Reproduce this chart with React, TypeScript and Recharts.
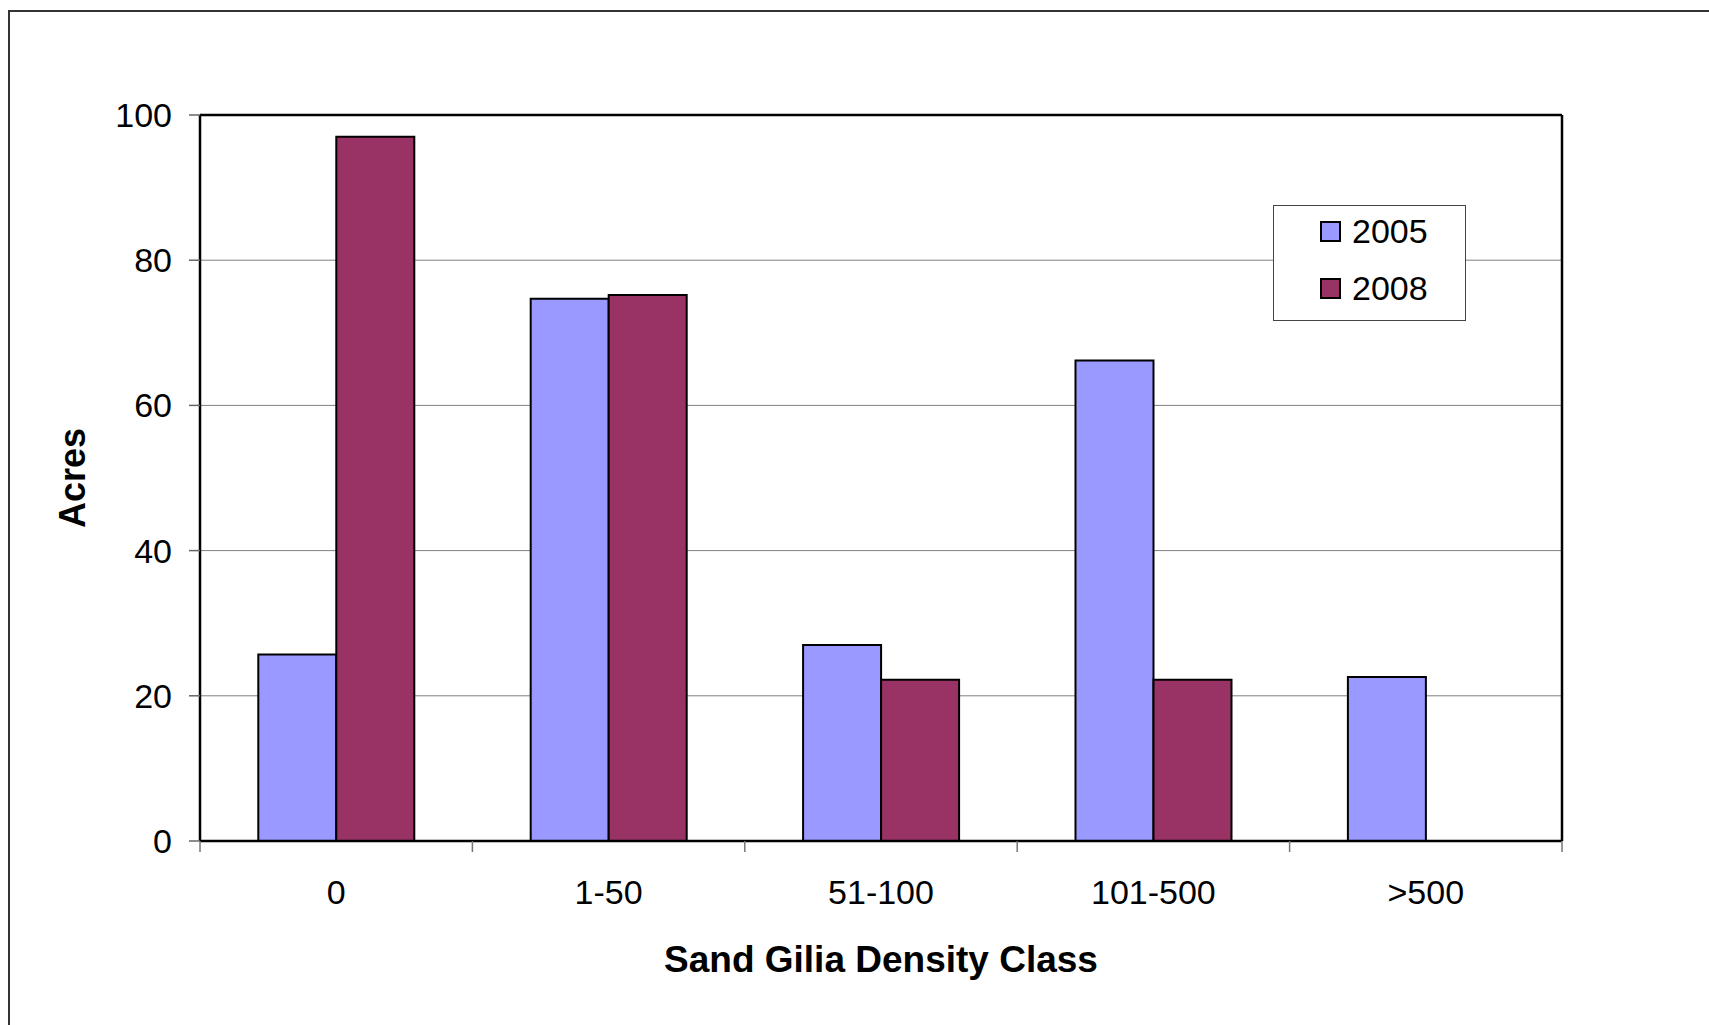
import { BarChart, Bar, XAxis, YAxis, CartesianGrid, Legend } from 'recharts';

const classes = ['0', '1-50', '51-100', '101-500', '>500'];
const acres2005 = [25.7, 74.7, 27.0, 66.2, 22.6];
const acres2008 = [97.0, 75.2, 22.2, 22.2, 0];
const yTicks = [0, 20, 40, 60, 80, 100];

const data = classes.map((cls, i) => ({ cls, y2005: acres2005[i], y2008: acres2008[i] }));

const W = 1709;
const H = 1025;
// the frame axes (top/right) need 1px of room to be drawn at all
const margin = { top: 114, right: 146, bottom: 34, left: 140 };
const Y_AXIS_W = 60;
const X_AXIS_H = 150;
const plotWidth = W - margin.left - margin.right - Y_AXIS_W - 1;
const band = plotWidth / classes.length;

const FONT = '"Liberation Sans", Arial, sans-serif';
const C2005 = '#9999FF';
const C2008 = '#993366';

// category labels sit at band centres, tick marks at band edges
function CategoryTick(props: any) {
  const { x, y, payload, index } = props;
  const half = band / 2;
  return (
    <g>
      {index === 0 && <line x1={x - half} x2={x - half} y1={y} y2={y + 11} stroke="#777" strokeWidth={1.5} />}
      <line x1={x + half} x2={x + half} y1={y} y2={y + 11} stroke="#777" strokeWidth={1.5} />
      <text x={x} y={y + 39} dy="0.71em" textAnchor="middle" fontSize={34} fill="#000" fontFamily={FONT}>
        {payload.value}
      </text>
    </g>
  );
}

function LegendBox() {
  const rows = [
    { label: '2005', color: C2005 },
    { label: '2008', color: C2008 },
  ];
  return (
    <div
      style={{
        position: 'relative',
        width: 193,
        height: 116,
        boxSizing: 'border-box',
        border: '1.5px solid #444',
        background: '#fff',
        fontFamily: FONT,
      }}
    >
      {rows.map((r, i) => (
        <div
          key={r.label}
          style={{
            position: 'absolute',
            left: 46,
            top: 5 + i * 57,
            height: 40,
            display: 'flex',
            alignItems: 'center',
          }}
        >
          <span
            style={{
              width: 21,
              height: 21,
              boxSizing: 'border-box',
              background: r.color,
              border: '2px solid #000',
              marginRight: 11,
            }}
          />
          <span style={{ fontSize: 34, color: '#000', lineHeight: 1 }}>{r.label}</span>
        </div>
      ))}
    </div>
  );
}

export default function App() {
  return (
    <div style={{ position: 'absolute', left: 0, top: 0, width: W, height: H, overflow: 'hidden', background: '#fff' }}>
      <div
        style={{
          position: 'absolute',
          left: 8,
          top: 10,
          width: W - 8,
          height: H - 10,
          boxSizing: 'border-box',
          borderLeft: '2px solid #333',
          borderTop: '2px solid #333',
        }}
      />
      <div style={{ position: 'absolute', left: 0, top: 0 }}>
        <BarChart width={W} height={H} data={data} margin={margin} barCategoryGap="21.4%" barGap={0}>
          <CartesianGrid vertical={false} stroke="#808080" strokeWidth={1} />
          <XAxis
            dataKey="cls"
            height={X_AXIS_H}
            axisLine={{ stroke: '#000', strokeWidth: 2.5 }}
            tickLine={false}
            tickSize={0}
            tickMargin={0}
            interval={0}
            tick={<CategoryTick />}
            label={{
              content: (p: any) => {
                const vb = p.viewBox;
                return (
                  <text
                    x={vb.x + vb.width / 2}
                    y={vb.y + 118}
                    textAnchor="middle"
                    dominantBaseline="central"
                    fontSize={37}
                    fontWeight="bold"
                    fill="#000"
                    fontFamily={FONT}
                  >
                    Sand Gilia Density Class
                  </text>
                );
              },
            }}
          />
          <XAxis
            xAxisId="top"
            dataKey="cls"
            orientation="top"
            height={1}
            tick={false}
            tickLine={false}
            axisLine={{ stroke: '#000', strokeWidth: 2.5 }}
          />
          <YAxis
            width={Y_AXIS_W}
            domain={[0, 100]}
            ticks={yTicks}
            interval={0}
            axisLine={{ stroke: '#000', strokeWidth: 2.5 }}
            tickLine={{ stroke: '#666', strokeWidth: 1.5 }}
            tickSize={11}
            tickMargin={17}
            tick={{ fontSize: 34, fill: '#000', fontFamily: FONT }}
            label={{
              content: (p: any) => {
                const vb = p.viewBox;
                const cx = vb.x - 68;
                const cy = vb.y + vb.height / 2;
                return (
                  <text
                    x={cx}
                    y={cy}
                    transform={`rotate(-90, ${cx}, ${cy})`}
                    textAnchor="middle"
                    dominantBaseline="central"
                    fontSize={36}
                    fontWeight="bold"
                    fill="#000"
                    fontFamily={FONT}
                  >
                    Acres
                  </text>
                );
              },
            }}
          />
          <YAxis
            yAxisId="right"
            orientation="right"
            width={1}
            domain={[0, 100]}
            tick={false}
            tickLine={false}
            axisLine={{ stroke: '#000', strokeWidth: 2.5 }}
          />
          <Legend
            layout="vertical"
            align="center"
            verticalAlign="middle"
            wrapperStyle={{ position: 'absolute', left: 1273, top: 205, width: 193 }}
            content={() => <LegendBox />}
          />
          <Bar dataKey="y2005" name="2005" fill={C2005} stroke="#000" strokeWidth={2} isAnimationActive={false} />
          <Bar dataKey="y2008" name="2008" fill={C2008} stroke="#000" strokeWidth={2} isAnimationActive={false} />
        </BarChart>
      </div>
    </div>
  );
}
